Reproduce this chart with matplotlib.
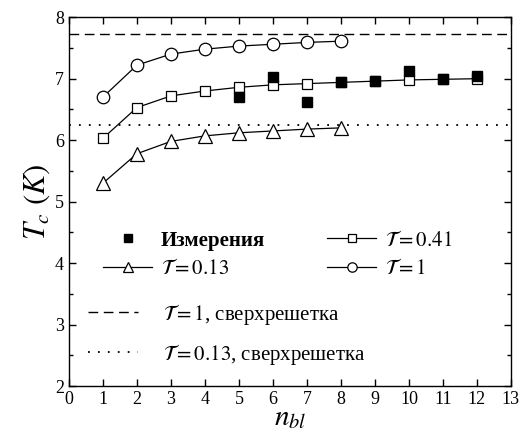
import numpy as np
import matplotlib
matplotlib.use('Agg')
import matplotlib.pyplot as plt
from matplotlib.ticker import MultipleLocator

plt.rcParams['font.family'] = ['Liberation Serif', 'DejaVu Serif']
plt.rcParams['mathtext.fontset'] = 'stix'

# tau = 1
n_t1 = [1, 2, 3, 4, 5, 6, 7, 8]
tc_t1 = [6.70, 7.22, 7.40, 7.48, 7.53, 7.56, 7.59, 7.61]

# tau = 0.41
n_t041 = [1, 2, 3, 4, 5, 6, 7, 8, 9, 10, 11, 12]
tc_t041 = [6.03, 6.53, 6.72, 6.80, 6.86, 6.90, 6.92, 6.94, 6.96, 6.98, 6.99, 7.00]

# tau = 0.13
n_t013 = [1, 2, 3, 4, 5, 6, 7, 8]
tc_t013 = [5.30, 5.78, 5.98, 6.07, 6.12, 6.15, 6.18, 6.20]

# measurements
n_meas = [5, 6, 7, 8, 9, 10, 11, 12]
tc_meas = [6.70, 7.03, 6.62, 6.95, 6.97, 7.12, 7.00, 7.05]

# superlattice levels
sl_t1 = 7.72
sl_t013 = 6.25

tau = r'$\mathcal{T}$'

fig = plt.figure(figsize=(5.3, 4.3), dpi=100)
ax = fig.add_axes([0.130, 0.102, 0.834, 0.858])

l_sl1 = ax.axhline(sl_t1, color='black', lw=1.0, ls=(0, (7, 4)))
l_sl2 = ax.axhline(sl_t013, color='black', lw=1.3, ls=(0, (1, 4.5)))

l_tri, = ax.plot(n_t013, tc_t013, '-', color='black', lw=0.9, marker='^',
                 ms=10, mfc='white', mec='black', mew=0.9)
l_sq, = ax.plot(n_t041, tc_t041, '-', color='black', lw=0.9, marker='s',
                ms=7.5, mfc='white', mec='black', mew=0.9)
l_circ, = ax.plot(n_t1, tc_t1, '-', color='black', lw=0.9, marker='o',
                  ms=9, mfc='white', mec='black', mew=0.9)
l_meas, = ax.plot(n_meas, tc_meas, 's', color='black', ms=7.5, ls='none')

ax.set_xlim(0, 13)
ax.set_ylim(2, 8)
ax.xaxis.set_major_locator(MultipleLocator(1))
ax.yaxis.set_major_locator(MultipleLocator(1))
ax.yaxis.set_minor_locator(MultipleLocator(0.5))
ax.tick_params(which='both', direction='in', top=True, right=True,
               labelsize=13, width=1.0)
ax.tick_params(which='major', length=5)
ax.tick_params(which='minor', length=3)
for s in ax.spines.values():
    s.set_linewidth(1.0)

ax.set_xlabel(r'$n_{bl}$', fontsize=21, labelpad=-2)
ax.set_ylabel(r'$T_c\ (K)$', fontsize=22, labelpad=2)

leg1 = ax.legend([l_meas, l_tri, l_sq, l_circ],
                 ['Измерения', tau + r'$=0.13$', tau + r'$=0.41$', tau + r'$=1$'],
                 ncol=2, frameon=False, fontsize=15, markerscale=0.75,
                 loc='upper left', bbox_to_anchor=(0.059, 0.444),
                 borderaxespad=0, handlelength=2.35, handletextpad=0.4,
                 columnspacing=3.0, labelspacing=0.4)
leg1.get_texts()[0].set_fontweight('bold')
ax.add_artist(leg1)
ax.legend([l_sl1, l_sl2],
          [tau + r'$=1$, сверхрешетка', tau + r'$=0.13$, сверхрешетка'],
          frameon=False, fontsize=15, loc='upper left', borderaxespad=0,
          bbox_to_anchor=(0.025, 0.252), handlelength=2.4,
          handletextpad=1.2, labelspacing=0.72)

fig.savefig('out.png', dpi=100)
